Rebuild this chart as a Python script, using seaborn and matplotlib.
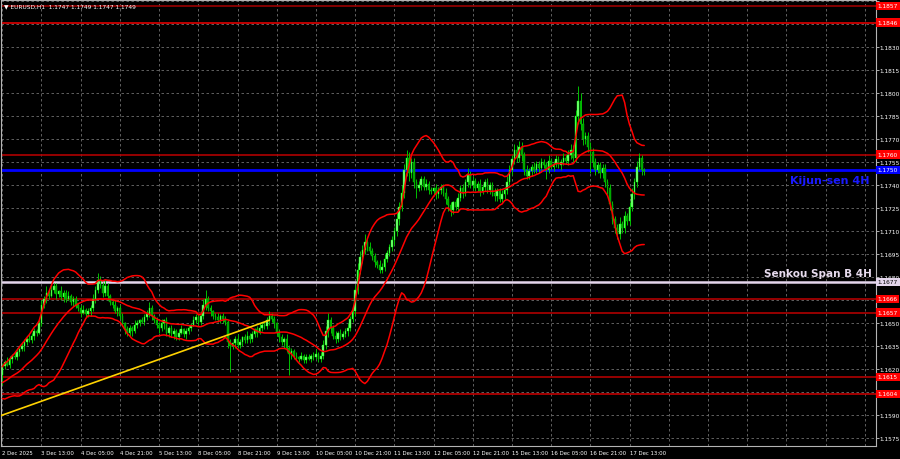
import matplotlib
matplotlib.use('Agg')

import numpy as np
import pandas as pd
import matplotlib.pyplot as plt
from matplotlib import font_manager
import seaborn as sns

BASE = 1.1600

# hourly closes in pips above BASE, 20 hours before the first visible bar
pre_close = [8, 6, 4, 3, 5, 9, 12, 10, 7, 5, 8, 13, 16, 14, 12, 15, 18, 17, 14, 16]

# visible bars, 2 Dec 21:00 .. 17 Dec 18:00 (H1)
close = [22, 25, 23, 27, 29, 28, 31, 33, 35, 38, 40, 39, 42, 45, 44, 50,
         62, 66, 70, 68, 72, 74, 69, 71, 67, 70, 66, 68, 64, 66, 62, 60,
         57, 59, 56, 58, 60, 66, 72, 78, 75, 70, 74, 68, 64, 62, 58, 60,
         55, 50, 46, 44, 47, 45, 49, 50, 52, 51, 54, 56, 60, 55, 52, 49,
         47, 50, 52, 44, 47, 43, 45, 41, 44, 46, 43, 45, 47, 49, 52, 54,
         51, 55, 62, 66, 60, 58, 55, 54, 52, 55, 53, 51, 38, 35, 37, 40,
         36, 38, 41, 39, 42, 40, 43, 46, 44, 47, 49, 48, 52, 55, 53, 50,
         44, 41, 38, 40, 34, 30, 32, 29, 28, 27, 29, 26, 28, 27, 29, 28,
         30, 27, 29, 36, 45, 52, 47, 42, 40, 44, 41, 43, 45, 47, 53, 58,
         72, 85, 93, 98, 103, 100, 97, 94, 90, 88, 85, 87, 92, 96, 100, 104,
         110, 118, 126, 135, 150, 158, 148, 155, 142, 138, 140, 144, 139, 141, 137, 136,
         138, 134, 137, 139, 135, 131, 127, 124, 129, 126, 132, 138, 135, 142, 147, 140,
         143, 138, 141, 136, 139, 142, 137, 140, 135, 133, 136, 131, 134, 137, 142, 150,
         157, 163, 158, 165, 160, 150, 146, 149, 152, 150, 154, 151, 155, 153, 150, 156,
         152, 154, 157, 153, 155, 158, 156, 160, 163, 158, 185, 195, 180, 170, 172, 165,
         162, 155, 150, 153, 148, 151, 142, 138, 128, 118, 112, 108, 115, 112, 120, 117,
         126, 134, 142, 152, 158, 150, 149]

# wick lengths in pips beyond the body
wick_up = [2, 1, 3, 2, 1, 2, 3, 1, 2, 2, 1, 3, 2, 2, 1, 2, 3, 2, 4, 2,
           3, 2, 2, 1, 3, 2, 2, 3, 1, 2, 2, 1, 2, 3, 1, 2, 2, 3, 2, 5,
           3, 2, 4, 2, 1, 2, 3, 1, 2, 2, 1, 2, 2, 1, 3, 2, 1, 2, 2, 3,
           4, 2, 1, 2, 2, 3, 1, 2, 1, 2, 2, 1, 2, 3, 1, 2, 2, 1, 3, 2,
           2, 3, 4, 6, 2, 2, 1, 2, 3, 1, 2, 2, 1, 2, 1, 2, 3, 2, 1, 2,
           3, 2, 2, 1, 2, 3, 2, 2, 2, 3, 2, 2, 1, 2, 2, 1, 3, 2, 2, 1,
           2, 1, 2, 1, 2, 2, 1, 2, 3, 1, 2, 3, 3, 5, 2, 2, 3, 1, 2, 2,
           2, 3, 2, 3, 3, 4, 4, 3, 5, 2, 3, 2, 2, 1, 3, 2, 3, 2, 2, 3,
           3, 4, 3, 5, 4, 5, 4, 3, 3, 2, 3, 2, 2, 3, 2, 2, 1, 3, 2, 2,
           2, 3, 2, 2, 1, 2, 3, 2, 3, 2, 4, 2, 3, 2, 2, 3, 2, 2, 3, 2,
           2, 3, 2, 2, 3, 2, 4, 3, 3, 4, 3, 4, 3, 2, 3, 2, 2, 3, 2, 2,
           3, 2, 2, 4, 2, 2, 3, 2, 2, 3, 2, 3, 4, 3, 4, 10, 5, 4, 3, 3,
           3, 2, 3, 2, 2, 3, 3, 2, 3, 2, 2, 3, 4, 2, 3, 2, 3, 4, 3, 4,
           3, 2, 1]
wick_dn = [6, 2, 1, 2, 3, 1, 2, 2, 1, 3, 2, 1, 2, 3, 2, 1, 2, 2, 3, 2,
           1, 2, 3, 2, 2, 3, 2, 1, 2, 3, 2, 2, 3, 1, 2, 2, 3, 2, 3, 2,
           2, 3, 2, 3, 2, 2, 1, 3, 2, 2, 3, 2, 2, 3, 1, 2, 2, 1, 2, 2,
           2, 3, 2, 2, 3, 2, 4, 2, 3, 2, 3, 2, 2, 1, 2, 3, 2, 2, 1, 2,
           2, 2, 2, 3, 2, 3, 2, 2, 1, 2, 3, 2, 4, 17, 2, 3, 2, 2, 3, 2,
           2, 3, 2, 2, 3, 1, 2, 2, 2, 3, 2, 3, 2, 3, 2, 4, 3, 14, 3, 2,
           2, 2, 1, 2, 2, 1, 2, 2, 1, 2, 2, 2, 3, 4, 3, 2, 3, 2, 2, 1,
           2, 3, 2, 2, 3, 3, 3, 4, 3, 3, 2, 3, 3, 2, 2, 2, 3, 2, 2, 3,
           3, 3, 4, 3, 3, 4, 5, 3, 4, 6, 2, 3, 2, 2, 3, 2, 2, 3, 2, 3,
           2, 3, 4, 4, 3, 2, 3, 2, 3, 2, 3, 2, 3, 2, 2, 3, 2, 3, 2, 3,
           2, 3, 3, 2, 2, 3, 3, 2, 3, 3, 3, 3, 4, 3, 2, 2, 3, 2, 2, 3,
           2, 2, 6, 2, 2, 3, 2, 2, 3, 2, 2, 3, 3, 3, 3, 5, 4, 4, 3, 3,
           14, 3, 3, 2, 3, 3, 3, 4, 4, 3, 3, 3, 3, 3, 3, 3, 3, 3, 3, 3,
           2, 3, 2]

x_labels = ['2 Dec 2025', '3 Dec 13:00', '4 Dec 05:00', '4 Dec 21:00', '5 Dec 13:00',
            '8 Dec 05:00', '8 Dec 21:00', '9 Dec 13:00', '10 Dec 05:00', '10 Dec 21:00',
            '11 Dec 13:00', '12 Dec 05:00', '12 Dec 21:00', '15 Dec 13:00', '16 Dec 05:00',
            '16 Dec 21:00', '17 Dec 13:00']

# horizontal levels
red_levels = [1.1857, 1.1846, 1.1760, 1.1666, 1.1657, 1.1615, 1.1604]
red_colors = ['#9a0000', '#e00000', '#b00000', '#b00000', '#b00000', '#b00000', '#c00000']
kijun = 1.1750
senkou_b = 1.1677

trend_bars = [-2, 109]
trend_prices = [1.1589, 1.1652]

title = '\u25bc EURUSD,H1  1.1747 1.1749 1.1747 1.1749'

# ---- derived ----
allc = np.array(pre_close + close) / 10000 + BASE
npre = len(pre_close)
s = pd.Series(allc)
mid = s.rolling(20).mean()
sd = s.rolling(20).std(ddof=0)
bands = pd.DataFrame({'bar': np.arange(len(allc)) - npre,
                      'mid': mid, 'upper': mid + 2 * sd, 'lower': mid - 2 * sd}).iloc[npre:]

c = allc[npre:]
o = allc[npre - 1:-1]
hi = np.maximum(o, c) + np.array(wick_up) / 10000
lo = np.minimum(o, c) - np.array(wick_dn) / 10000
bars = np.arange(len(c))
up = c >= o

sns.set_style('dark', {'axes.facecolor': 'black', 'figure.facecolor': 'black'})

# small labels in a narrow face if there is one
try:
    font_manager.findfont('Liberation Sans Narrow', fallback_to_default=False)
    small_font = 'Liberation Sans Narrow'
    FS = 5.2
except Exception:
    small_font = 'DejaVu Sans'
    FS = 4.2
plt.rcParams['font.family'] = [small_font, 'DejaVu Sans']

fig = plt.figure(figsize=(9, 4.6), dpi=100)
ax = fig.add_axes([1 / 900, 13 / 460, 875 / 900, 446 / 460])
ax.set_facecolor('black')

# grid
xt = np.arange(0, 353, 16)
yt = np.round(np.arange(1.1575, 1.1861, 0.0015), 4)
for x in xt:
    ax.axvline(x, color='#6e6e6e', lw=0.6, ls=(0, (3, 3)), zorder=0)
for y in yt:
    ax.axhline(y, color='#6e6e6e', lw=0.6, ls=(0, (3, 3)), zorder=0)

# levels
for lvl, col in zip(red_levels, red_colors):
    ax.axhline(lvl, color=col, lw=1.2, zorder=1)
ax.axhline(kijun, color='#0000ff', lw=2.0, zorder=1)
ax.axhline(senkou_b, color='#e4d6ec', lw=1.8, zorder=1)

# candles
ax.vlines(bars, lo, hi, color='#00c000', lw=0.7, zorder=3)
body = np.maximum(np.abs(c - o), 0.00004)
ax.bar(bars[up], body[up], bottom=o[up], width=0.65, color='#7cff7c',
       edgecolor='#00ff00', lw=0.3, zorder=4)
ax.bar(bars[~up], body[~up], bottom=c[~up], width=0.65, color='#00a000',
       edgecolor='#00c800', lw=0.3, zorder=4)

# bollinger bands
for col in ['upper', 'mid', 'lower']:
    sns.lineplot(data=bands, x='bar', y=col, ax=ax, color='#ff0000', lw=1.1,
                 zorder=5, legend=False)

sns.lineplot(x=trend_bars, y=trend_prices, ax=ax, color='#ffd200', lw=1.2, zorder=6)

ax.set_xlim(-0.53, 356.6)
ax.set_ylim(1.1570, 1.18608)
ax.set_xlabel('')
ax.set_ylabel('')

ax.set_xticks(xt)
ax.set_xticklabels(x_labels + [''] * (len(xt) - len(x_labels)), fontsize=FS * 0.93)
for t in ax.get_xticklabels():
    t.set_ha('left')
ax.yaxis.tick_right()
ax.set_yticks(yt)
# labels that sit under a price tag are not shown
hidden = [1.1605, 1.1665, 1.1845, 1.1860]
ax.set_yticklabels(['' if v in hidden else f'{v:.4f}' for v in yt], fontsize=FS)
ax.tick_params(axis='both', colors='#c8c8c8', labelcolor='white',
               length=2, width=0.6, pad=1.0)
ax.tick_params(axis='y', pad=0.8)
for sp in ax.spines.values():
    sp.set_color('#b4b4b4')
    sp.set_linewidth(0.8)
    sp.set_visible(True)


def tag(price, fc, tc):
    ax.annotate(f'{price:.4f}', xy=(1, price), xycoords=('axes fraction', 'data'),
                xytext=(1.2, 0), textcoords='offset points', ha='left', va='center',
                fontsize=FS, color=tc, annotation_clip=False, zorder=20,
                bbox=dict(boxstyle='square,pad=0.3', fc=fc, ec='none'))


for lvl in red_levels:
    tag(lvl, '#ff0000', 'white')
tag(kijun, '#0000ff', 'white')
tag(senkou_b, '#e4d6ec', 'black')

ax.annotate('Kijun-sen 4H', xy=(0.993, kijun), xycoords=('axes fraction', 'data'),
            xytext=(0, -4), textcoords='offset points', ha='right', va='top',
            fontsize=8, fontweight='bold', color='#1a1aff', zorder=20,
            family='DejaVu Sans')
ax.annotate('Senkou Span B 4H', xy=(0.995, senkou_b), xycoords=('axes fraction', 'data'),
            xytext=(0, 3), textcoords='offset points', ha='right', va='bottom',
            fontsize=7.5, fontweight='bold', color='#e8dcef', zorder=20,
            family='DejaVu Sans')

ax.text(0.004, 0.992, title, transform=ax.transAxes, ha='left', va='top',
        fontsize=FS, color='white', zorder=20)

fig.savefig('out.png', dpi=100, facecolor='black')
